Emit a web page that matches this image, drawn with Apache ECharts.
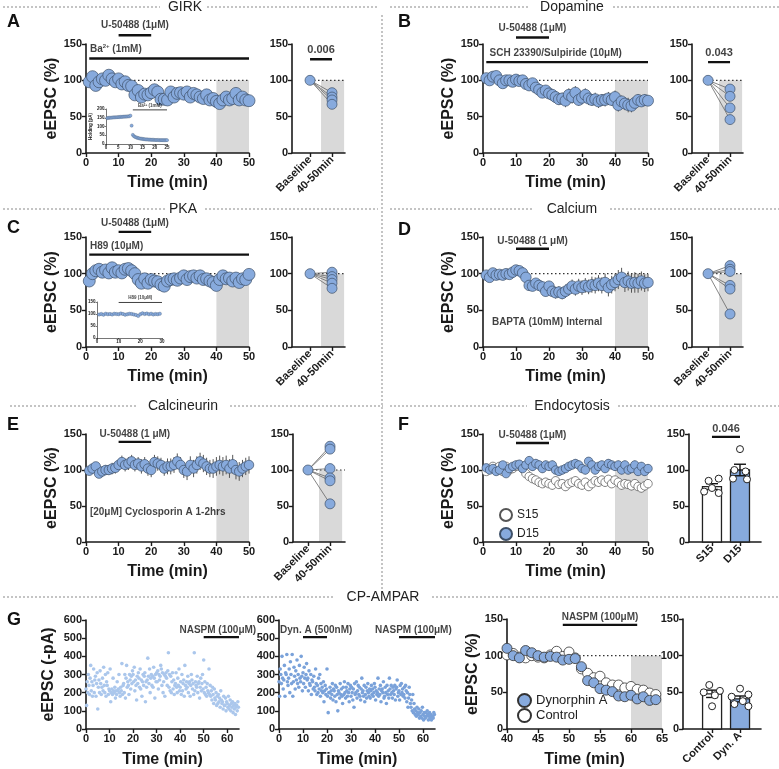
<!DOCTYPE html>
<html><head><meta charset="utf-8">
<script src="https://cdn.jsdelivr.net/npm/echarts@6/dist/echarts.min.js"></script>
<style>html,body{margin:0;padding:0;background:#fff}#c{width:779px;height:769px}</style>
</head><body><div id="c"></div>
<script>
// ---------------- DATA ----------------
const timeMain = Array.from({length:50},(_,i)=>i+1); // minutes 1..50
const BASE = 100;
const girkVals = [98,105,93,98,102,100,107,102,98,102,95,98,93,92,80,86,77,81,80,83,87,84,74,74,73,84,77,82,83,81,84,77,82,80,77,75,80,73,75,71,68,73,77,73,75,82,73,77,73,72];
const girkErr  = [4,5,5,4,5,4,5,4,4,5,4,4,5,5,6,6,6,5,6,6,6,6,5,6,6,7,7,6,6,7,6,7,6,6,7,6,7,7,6,7,7,7,7,7,6,7,7,6,6,6];
const girkPair = [83,77,73,67];
const girkInsetT = [0.5,1,1.5,2,2.5,3,3.5,4,4.5,5,5.5,6,6.5,7,7.5,8,8.5,9,9.5,10,10.5,11,11.5,12,12.5,13,13.5,14,14.5,15,15.5,16,16.5,17,17.5,18,18.5,19,19.5,20,20.5,21,21.5,22,22.5,23,23.5,24,24.5,25];
const girkInsetV = [148,149,150,150,151,152,152,153,153,154,154,155,155,156,156,157,157,158,158,162,105,52,44,40,37,35,33,31,30,29,28,27,26,26,25,25,24,24,24,23,23,23,23,22,22,22,22,22,22,22];

const dopaVals = [103,100,105,106,100,96,100,100,98,101,99,100,95,93,96,90,87,83,86,82,80,77,74,75,72,80,77,83,73,76,80,75,73,74,71,73,73,75,73,77,66,71,68,66,65,69,73,71,73,72];
const dopaErr  = [3,4,3,4,4,4,5,4,4,5,5,5,6,5,6,6,7,7,7,8,7,8,8,8,9,9,9,9,8,9,9,9,8,9,9,8,9,9,8,9,9,8,9,10,9,8,8,7,8,7];
const dopaPair = [88,78,62,46];

const pkaVals = [90,100,104,106,102,105,101,108,102,104,101,106,107,104,100,92,87,93,87,92,90,89,85,83,90,92,93,91,94,97,92,96,97,94,97,92,93,90,88,84,92,97,93,94,90,94,88,93,92,99];
const pkaErr  = [4,4,4,5,4,5,4,5,4,5,5,5,5,5,5,6,6,5,6,6,6,6,6,6,6,6,6,5,6,6,6,6,6,6,6,6,6,6,6,7,6,6,6,6,6,6,6,6,6,6];
const pkaPair = [102,96,92,87,80];
const pkaInsetT = [1,2,3,4,5,6,7,8,9,10,11,12,13,14,15,16,17,18,19,20,21,22,23,24,25,26,27,28,29];
const pkaInsetV = [98,100,97,101,99,100,98,101,100,99,102,100,97,99,101,100,98,96,92,99,103,100,102,99,101,98,100,99,101];

const caVals = [98,95,101,98,99,98,100,99,102,105,104,101,95,84,83,87,84,82,76,83,76,74,75,73,76,79,83,79,83,81,84,82,85,84,87,84,88,81,85,88,92,95,88,90,87,88,87,90,87,88];
const caErr  = [3,3,3,3,3,3,3,3,3,3,3,4,5,6,6,6,7,7,7,7,8,8,8,8,9,9,9,9,10,10,10,10,11,11,11,11,12,12,12,12,13,13,13,13,13,14,13,13,12,12];
const caPair = [111,106,103,84,79,45];

const cnVals = [99,102,105,95,98,100,100,102,103,107,111,107,109,112,107,109,105,108,102,100,111,109,107,102,105,105,107,112,107,100,98,107,102,107,112,109,105,102,102,105,107,105,107,102,108,100,98,102,105,107];
const cnErr  = [5,6,6,6,7,7,7,8,8,8,9,9,9,9,9,9,10,10,10,10,10,10,10,10,11,11,11,11,11,11,12,12,12,12,12,12,12,12,13,13,13,13,13,13,13,13,13,12,12,12];
const cnPair = [133,129,102,89,85,53];

const s15Vals = [98,102,105,102,105,98,105,100,102,105,107,102,95,91,88,86,83,81,83,81,79,85,80,81,77,81,83,85,81,79,83,77,81,85,83,86,83,87,81,86,83,79,81,80,78,81,77,75,78,81];
const d15Vals = [103,100,102,98,100,107,95,102,105,107,108,102,107,113,105,109,107,102,107,105,107,100,98,100,102,105,107,109,107,102,100,112,107,100,105,107,102,109,107,105,107,100,107,100,102,107,98,105,98,102];
const endoErr = [5,5,5,5,5,5,5,5,6,6,6,6,6,6,6,6,6,6,6,6,6,6,6,6,6,6,6,6,6,6,6,6,6,6,6,6,6,6,6,6,6,6,6,6,6,6,6,6,6,6];
const endoCats = ['S15','D15'];
const endoMeans = [77,100];
const endoSem = [4,8];
const s15Pts = [85,88,75,70,68];
const s15Jit = [-0.12,0.24,0,-0.28,0.24];
const d15Pts = [129,100,98,88,87];
const d15Jit = [0,-0.2,0.2,-0.25,0.25];

// CP-AMPAR raw traces, one sweep every 15 s
const sweepMin = 0.25;
const ctrlRaw = [220,130,260,200, 300,240,190,280, 350,210,260,180, 240,330,200,270, 290,180,250,310,
 110,230,270,200, 320,250,190,230, 280,210,340,240, 200,300,180,260, 240,310,190,220,
 210,330,150,200, 220,190,280,210, 200,230,170,210, 190,260,210,220, 300,200,180,230,
 210,360,190,240, 250,200,300,170, 280,350,230,260, 240,190,300,270, 220,290,250,320,
 300,260,340,210, 270,240,160,290, 250,310,280,230, 330,220,270,180, 260,300,240,290,
 310,150,260,230, 270,390,290,250, 330,200,280,300, 240,290,230,340, 280,170,300,260,
 310,260,320,220, 300,270,290,350, 330,240,310,200, 260,300,180,290, 310,280,240,320,
 420,230,300,210, 290,200,260,310, 220,270,190,240, 250,310,230,200, 280,240,330,210,
 230,260,190,300, 210,250,270,180, 350,240,220,260, 230,290,200,250, 260,180,240,300,
 270,220,250,190, 420,210,260,240, 230,290,200,250, 260,170,230,280, 210,250,300,220,
 380,200,260,190, 230,180,250,210, 200,330,190,240, 180,210,160,230, 190,140,220,170,
 160,200,130,180, 140,190,150,170, 120,210,160,140, 150,110,180,130, 130,170,100,150,
 140,120,180,110, 130,160,100,140, 120,150,90,130, 110,140,80,120, 130,100,150,120];
const dynRaw = [260,180,330,300, 250,400,280,220, 270,350,180,310, 300,410,260,240, 280,330,200,370,
 300,250,410,180, 260,340,290,220, 320,270,380,250, 300,230,350,280, 260,400,290,210,
 310,250,340,280, 230,300,360,270, 280,210,320,250, 240,300,190,270, 260,220,290,230,
 210,330,250,190, 240,200,280,220, 300,180,250,210, 230,200,260,150, 210,240,190,220,
 330,180,90,200, 200,230,170,210, 190,250,160,220, 210,180,240,150, 230,190,100,210,
 200,170,250,190, 220,180,140,230, 190,260,200,170, 230,210,180,250, 200,150,220,240,
 180,230,200,160, 220,120,250,190, 200,260,170,210, 240,190,230,180, 160,220,280,200,
 210,180,240,150, 190,230,170,210, 250,200,180,220, 170,210,240,190, 220,180,200,250,
 230,160,210,190, 200,280,180,220, 190,240,150,210, 220,200,260,170, 180,230,200,140,
 240,190,210,170, 280,220,190,240, 200,170,230,210, 190,240,160,220, 230,270,180,200,
 210,160,240,190, 250,200,220,180, 190,230,170,240, 210,150,200,120, 170,230,190,140,
 120,160,100,190, 90,140,110,80, 100,70,120,90, 80,110,60,90, 70,100,60,120,
 80,50,90,70, 60,90,70,100, 80,50,70,90, 60,80,50,70, 70,60,90,80];
const naspmT = [40,41,42,43,44,45,46,47,48,49,50,51,52,53,54,55,56,57,58,59,60,61,62,63,64];
const naspmDyn  = [110,100,97,107,104,100,98,99,98,94,95,96,85,66,63,55,53,51,45,44,46,41,44,39,40];
const naspmCtrl = [101,103,98,97,100,98,97,101,106,99,105,97,82,76,70,72,63,60,60,56,58,54,53,49,47];
const naspmCats = ['Control','Dyn. A'];
const naspmMeans = [48,41];
const naspmSem = [5,4];
const ctrlPts = [60,52,50,46,31];
const ctrlJit = [-0.1,0.28,-0.3,0.1,0];
const dynPts = [55,47,44,38,34,31];
const dynJit = [0,0.3,-0.3,0.1,-0.2,0.3];

// ---------------- STYLE / HELPERS ----------------
const FONT = 'Liberation Sans, Arial, sans-serif';
const AX = '#1a1a1a';
const BLUE = '#87aadd', EDGE = '#3e5068';
const grid=[], xAxis=[], yAxis=[], series=[], graphic=[];

function mkAxis(o){
  const a = {
    type:'value', gridIndex:o.g, min:o.min, max:o.max,
    axisLine:{show:true,onZero:false,lineStyle:{color:AX,width:o.lw||1.6}},
    axisTick:{show:true,length:o.tl||4,lineStyle:{color:AX,width:o.lw||1.4}},
    axisLabel:{show:true,color:AX,fontSize:o.fs||11,fontWeight:'bold',fontFamily:FONT,margin:o.margin||4,rotate:o.rotate||0},
    splitLine:{show:false},
    name:o.name||'', nameLocation:'middle', nameGap:o.nameGap||20,
    nameTextStyle:{color:AX,fontSize:o.nfs||16,fontWeight:'bold',fontFamily:FONT}
  };
  if(o.interval!=null) a.interval=o.interval;
  if(o.formatter) a.axisLabel.formatter=o.formatter;
  if(o.custom){a.axisLabel.customValues=o.custom; a.axisTick.customValues=o.custom;}
  return a;
}
function addGrid(rect, xo, yo){
  const g=grid.length;
  grid.push({left:rect[0],top:rect[1],width:rect[2],height:rect[3]});
  xAxis.push(mkAxis(Object.assign({g},xo)));
  yAxis.push(mkAxis(Object.assign({g},yo)));
  return g;
}
function S(g,o){return Object.assign({xAxisIndex:g,yAxisIndex:g,animation:false},o);}
function shade(g,x0,x1,y1){
  series.push(S(g,{type:'custom',silent:true,z:0,data:[[x0,x1,y1]],renderItem:(p,api)=>{
    const a=api.coord([api.value(0),api.value(2)]), b=api.coord([api.value(1),0]);
    return {type:'rect',shape:{x:a[0],y:a[1],width:b[0]-a[0],height:b[1]-a[1]},style:{fill:'#d9d9d9'}};
  }}));
}
function dotted(g,x0,x1,y){
  series.push(S(g,{type:'line',silent:true,z:1,symbol:'none',data:[[x0,y],[x1,y]],lineStyle:{color:'#333',width:1.2,type:[1.5,2.5]}}));
}
function drugBar(g,x0,x1,y,w){
  series.push(S(g,{type:'line',silent:true,clip:false,z:4,symbol:'none',data:[[x0,y],[x1,y]],lineStyle:{color:'#111',width:w||2.4}}));
}
function note(g,x,y,text,o){
  o=o||{};
  series.push(S(g,{type:'scatter',silent:true,clip:false,z:6,symbolSize:1,itemStyle:{color:'rgba(0,0,0,0)'},data:[[x,y]],
    label:{show:true,position:'inside',formatter:text,align:o.align||'center',verticalAlign:'middle',fontSize:o.fs||10,fontWeight:o.fw||'bold',color:'#111',fontFamily:FONT,rich:o.rich}}));
}
function errBars(g,xs,ys,es,o){
  o=o||{};
  series.push(S(g,{type:'custom',silent:true,z:2,data:xs.map((x,i)=>[x,ys[i]-es[i],ys[i]+es[i]]),renderItem:(p,api)=>{
    const a=api.coord([api.value(0),api.value(1)]), b=api.coord([api.value(0),api.value(2)]);
    return {type:'line',shape:{x1:a[0],y1:a[1],x2:b[0],y2:b[1]},style:{stroke:o.color||'#555',lineWidth:o.lw||1}};
  }}));
}
function pts(g,xs,ys,o){
  const s=S(g,{type:'scatter',z:o.z||3,symbolSize:o.size,data:xs.map((x,i)=>[x,ys[i]]),
    itemStyle:{color:o.color,borderColor:o.border||EDGE,borderWidth:o.bw==null?0.7:o.bw,opacity:1}});
  if(o.name) s.name=o.name;
  series.push(s);
}
function mainPanel(rect){
  return addGrid(rect,{min:0,max:50,interval:10,name:'Time (min)',nameGap:22},{min:0,max:150,interval:50,name:'eEPSC (%)',nameGap:18});
}
function pairPanel(rect,xmin,xmax,vals){
  const g=addGrid(rect,{min:xmin,max:xmax,custom:[0,1],rotate:45,margin:5,formatter:v=>v===0?'Baseline':(v===1?'40-50min':'')},{min:0,max:150,interval:50});
  shade(g,0.5,1.55,100);
  dotted(g,0,xmax,100);
  vals.forEach(v=>series.push(S(g,{type:'line',silent:true,z:2,symbol:'none',data:[[0,BASE],[1,v]],lineStyle:{color:'#666',width:0.8}})));
  pts(g,[0].concat(vals.map(()=>1)),[BASE].concat(vals),{size:10,color:BLUE});
  return g;
}
function meanBars(g,means,sems,fills){
  series.push(S(g,{type:'custom',silent:true,z:2,data:means.map((m,i)=>[i,m,sems[i]]),renderItem:(p,api)=>{
    const x=api.value(0),m=api.value(1),s=api.value(2);
    const top=api.coord([x,m]), base=api.coord([x,0]), up=api.coord([x,m+s]), dn=api.coord([x,m-s]);
    const w=19, st={stroke:'#111',lineWidth:1.4};
    return {type:'group',children:[
      {type:'rect',shape:{x:top[0]-w/2,y:top[1],width:w,height:base[1]-top[1]},style:{fill:fills[x],stroke:'#222',lineWidth:1.3}},
      {type:'line',shape:{x1:top[0],y1:up[1],x2:top[0],y2:dn[1]},style:st},
      {type:'line',shape:{x1:top[0]-6,y1:up[1],x2:top[0]+6,y2:up[1]},style:st},
      {type:'line',shape:{x1:top[0]-6,y1:dn[1],x2:top[0]+6,y2:dn[1]},style:st}
    ]};
  }}));
}
function dots(g,x,vals,jit){
  pts(g,vals.map((v,i)=>x+jit[i]),vals,{size:7,color:'#fff',border:'#222',bw:1,z:4});
}
function inset(rect,xmax,xint,ymax,yint,yname){
  const o={fs:4.5,lw:0.6,tl:1.5,margin:1.5,nfs:4.5};
  return addGrid(rect,Object.assign({},o,{min:0,max:xmax,interval:xint}),Object.assign({},o,{min:0,max:ymax,interval:yint,name:yname,nameGap:9}));
}

// ---------------- PANELS ----------------
// A - GIRK
const gA=mainPanel([86,44,163,109]);
shade(gA,40,50,100); dotted(gA,0,50,100);
errBars(gA,timeMain,girkVals,girkErr);
pts(gA,timeMain,girkVals,{size:12,color:BLUE});
drugBar(gA,10,20,162); note(gA,15,176,'U-50488 (1μM)');
drugBar(gA,1,50,130); note(gA,1.2,143,'Ba{s|2+} (1mM)',{align:'left',rich:{s:{fontSize:6,fontWeight:'bold',fontFamily:FONT,verticalAlign:'top',padding:[0,0,6,0]}}});
const gAi=inset([106,109,61,35],25,5,200,50,'Holding (pA)');
pts(gAi,girkInsetT,girkInsetV,{size:3.2,color:BLUE,bw:0.3});
drugBar(gAi,11,25,195,0.8); note(gAi,18,218,'Ba{s|2+} (1mM)',{fs:4.5,rich:{s:{fontSize:3,fontWeight:'bold',verticalAlign:'top'}}});
const gAr=pairPanel([292,44,53,109],-0.82,1.59,girkPair);
drugBar(gAr,0,1,129); note(gAr,0.5,142,'0.006',{fs:11});

// B - Dopamine
const gB=mainPanel([483,44,165,109]);
shade(gB,40,50,100); dotted(gB,0,50,100);
errBars(gB,timeMain,dopaVals,dopaErr);
pts(gB,timeMain,dopaVals,{size:11,color:BLUE});
drugBar(gB,10,20,159); note(gB,15,171,'U-50488 (1μM)');
drugBar(gB,1,50,125); note(gB,2,137.5,'SCH 23390/Sulpiride (10μM)',{align:'left'});
const gBr=pairPanel([692,44,51,109],-0.73,1.59,dopaPair);
drugBar(gBr,0,1,125); note(gBr,0.5,138,'0.043',{fs:11});

// C - PKA
const gC=mainPanel([86,237,163,110]);
shade(gC,40,50,100); dotted(gC,0,50,100);
errBars(gC,timeMain,pkaVals,pkaErr);
pts(gC,timeMain,pkaVals,{size:12,color:BLUE});
drugBar(gC,10,20,157); note(gC,15,169,'U-50488 (1μM)');
drugBar(gC,1,50,126); note(gC,1.2,138,'H89 (10μM)',{align:'left'});
const gCi=inset([97,302,65,36],30,10,150,50,'');
pts(gCi,pkaInsetT,pkaInsetV,{size:3.4,color:BLUE,bw:0.3});
drugBar(gCi,10,30,148,0.8); note(gCi,20,166,'H89 (10μM)',{fs:4.5});
const gCr=pairPanel([292,237,53,110],-0.82,1.59,pkaPair);

// D - Calcium
const gD=mainPanel([483,237,165,110]);
shade(gD,40,50,100); dotted(gD,0,50,100);
errBars(gD,timeMain,caVals,caErr);
pts(gD,timeMain,caVals,{size:10.5,color:BLUE});
drugBar(gD,10,20,134); note(gD,15,144,'U-50488 (1 μM)');
note(gD,2.7,34,'BAPTA (10mM) Internal',{align:'left'});
const gDr=pairPanel([692,237,51,110],-0.73,1.59,caPair);

// E - Calcineurin
const gE=mainPanel([86,434,163,108]);
shade(gE,40,50,100);
errBars(gE,timeMain,cnVals,cnErr);
pts(gE,timeMain,cnVals,{size:9.5,color:BLUE});
drugBar(gE,10,20,139); note(gE,15,150,'U-50488 (1 μM)');
note(gE,1.2,42,'[20μM] Cyclosporin A 1-2hrs',{align:'left'});
const gEr=pairPanel([293,434,52,108],-0.68,1.68,cnPair);

// F - Endocytosis
const gF=mainPanel([483,434,165,108]);
shade(gF,40,50,100);
errBars(gF,timeMain,s15Vals,endoErr); errBars(gF,timeMain,d15Vals,endoErr);
pts(gF,timeMain,s15Vals,{size:8.5,color:'#fff',border:'#555',name:'S15'});
pts(gF,timeMain,d15Vals,{size:8.5,color:BLUE,name:'D15'});
drugBar(gF,10,20,137.5); note(gF,15,148,'U-50488 (1μM)');
const gFr=addGrid([689,434,72,108],{min:-0.82,max:1.75,custom:[0,1],rotate:45,margin:5,formatter:v=>v===0?endoCats[0]:(v===1?endoCats[1]:'')},{min:0,max:150,interval:50});
meanBars(gFr,endoMeans,endoSem,['#fff',BLUE]);
dots(gFr,0,s15Pts,s15Jit); dots(gFr,1,d15Pts,d15Jit);
drugBar(gFr,0,1,146); note(gFr,0.5,157,'0.046',{fs:11});

// G - CP-AMPAR
const g1=addGrid([86,620,153,109],{min:0,max:65,custom:[0,10,20,30,40,50,60],name:'Time (min)',nameGap:23},{min:0,max:600,interval:100,name:'eEPSC (-pA)',nameGap:29});
pts(g1,ctrlRaw.map((_,i)=>i*sweepMin),ctrlRaw,{size:3.6,color:'#abc7ec',bw:0});
drugBar(g1,50,65,506); note(g1,56,545,'NASPM (100μM)');
const g2=addGrid([279,620,156,109],{min:0,max:65,custom:[0,10,20,30,40,50,60],name:'Time (min)',nameGap:23},{min:0,max:600,interval:100});
pts(g2,dynRaw.map((_,i)=>i*sweepMin),dynRaw,{size:3.6,color:'#7aa2da',bw:0});
drugBar(g2,10,20,506); note(g2,15.5,545,'Dyn. A (500nM)');
drugBar(g2,50,65,506); note(g2,56,545,'NASPM (100μM)');
const g3=addGrid([507,619,155,110],{min:40,max:65,interval:5,name:'Time (min)',nameGap:23},{min:0,max:150,interval:50,name:'eEPSC (%)',nameGap:24});
shade(g3,60,65,100); dotted(g3,40,65,100);
pts(g3,naspmT,naspmCtrl,{size:10,color:'#fff',border:'#333',bw:0.8,name:'Control'});
pts(g3,naspmT,naspmDyn,{size:10,color:BLUE,border:'#333',bw:0.8,name:'Dynorphin A',z:4});
drugBar(g3,49,61,142); note(g3,55,153,'NASPM (100μM)');
const g4=addGrid([683,619,78,110],{min:-1.04,max:1.75,custom:[0,1],rotate:45,margin:5,formatter:v=>v===0?naspmCats[0]:(v===1?naspmCats[1]:'')},{min:0,max:150,interval:50});
meanBars(g4,naspmMeans,naspmSem,['#fff',BLUE]);
dots(g4,0,ctrlPts,ctrlJit); dots(g4,1,dynPts,dynJit);

// ---------------- LAYOUT DECORATION ----------------
const dash={stroke:'#8a8a8a',lineWidth:1,lineDash:[2,2]};
function hline(x1,x2,y){graphic.push({type:'line',silent:true,shape:{x1,y1:y,x2,y2:y},style:dash});}
function title(x,y,t){graphic.push({type:'text',silent:true,x,y,style:{text:t,font:'14px '+FONT,fill:'#222',textAlign:'center',textVerticalAlign:'middle'}});}
function letter(x,y,t){graphic.push({type:'text',silent:true,x,y,style:{text:t,font:'bold 18px '+FONT,fill:'#111',textAlign:'left',textVerticalAlign:'middle'}});}
hline(3,160,7); hline(207,378,7); title(185,7,'GIRK');
hline(390,530,7); hline(613,779,7); title(572,7,'Dopamine');
hline(3,166,209); hline(205,378,209); title(183,209,'PKA');
hline(390,533,209); hline(610,779,209); title(572,209,'Calcium');
hline(10,138,406); hline(230,383,406); title(183,406,'Calcineurin');
hline(390,527,406); hline(618,779,406); title(572,406,'Endocytosis');
hline(3,334,597); hline(432,779,597); title(383,597,'CP-AMPAR');
graphic.push({type:'line',silent:true,shape:{x1:382,y1:15,x2:382,y2:590},style:dash});
letter(7,22,'A'); letter(398,22,'B'); letter(7,228,'C'); letter(398,230,'D');
letter(7,425,'E'); letter(398,425,'F'); letter(7,620,'G');

const chart=echarts.init(document.getElementById('c'),null,{renderer:'canvas'});
chart.setOption({
  animation:false,
  backgroundColor:'#fff',
  textStyle:{fontFamily:FONT},
  grid, xAxis, yAxis, series, graphic,
  legend:[
    {left:494,top:503,orient:'vertical',itemGap:5,itemWidth:12,itemHeight:12,icon:'circle',data:['S15','D15'],textStyle:{fontSize:12,color:'#222',fontFamily:FONT},selectedMode:false},
    {left:512,top:688,orient:'vertical',itemGap:0,itemWidth:13,itemHeight:13,icon:'circle',data:['Dynorphin A','Control'],textStyle:{fontSize:13,color:'#222',fontFamily:FONT,lineHeight:14},selectedMode:false}
  ]
});
</script></body></html>
